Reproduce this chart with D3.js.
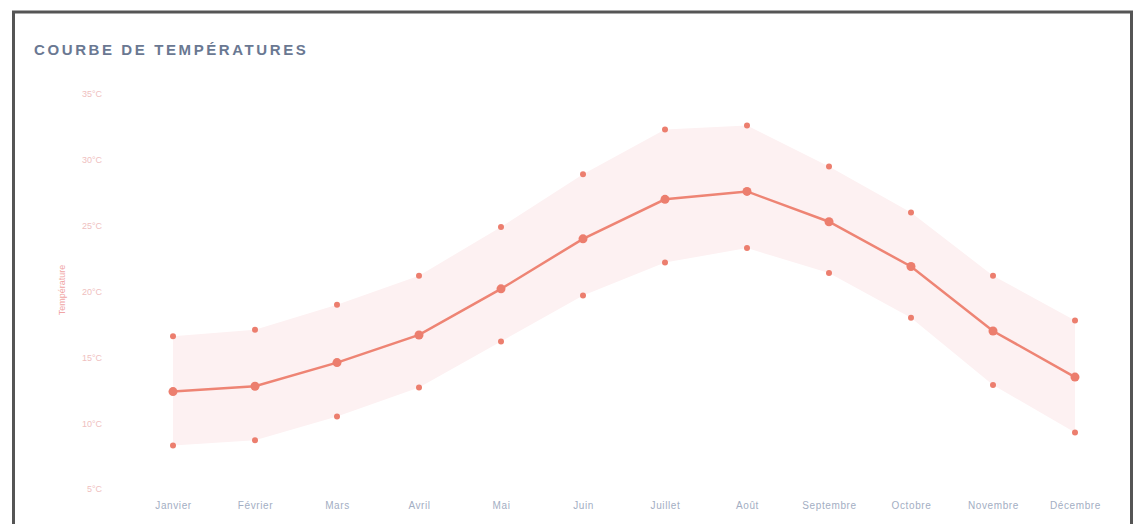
<!DOCTYPE html>
<html>
<head>
<meta charset="utf-8">
<script src="https://cdn.jsdelivr.net/npm/d3@7"></script>
<style>
  body { margin: 0; background: #fff; }
  svg { display: block; font-family: "Liberation Sans", Arial, sans-serif; }
</style>
</head>
<body>
<div id="chart"></div>
<script>
const months = ["Janvier", "Février", "Mars", "Avril", "Mai", "Juin", "Juillet", "Août", "Septembre", "Octobre", "Novembre", "Décembre"];
const tempMoy = [12.4, 12.8, 14.6, 16.7, 20.2, 24.0, 27.0, 27.6, 25.3, 21.9, 17.0, 13.5];
const tempMax = [16.6, 17.1, 19.0, 21.2, 24.9, 28.9, 32.3, 32.6, 29.5, 26.0, 21.2, 17.8];
const tempMin = [8.3, 8.7, 10.5, 12.7, 16.2, 19.7, 22.2, 23.3, 21.4, 18.0, 12.9, 9.3];
const yTicks = [5, 10, 15, 20, 25, 30, 35];

const width = 1133;
const height = 524;

const svg = d3.select("#chart").append("svg")
    .attr("width", width)
    .attr("height", height);

// cadre
svg.append("rect")
    .attr("x", 13.5)
    .attr("y", 12)
    .attr("width", 1118)
    .attr("height", 530)
    .attr("fill", "none")
    .attr("stroke", "#555")
    .attr("stroke-width", 3);

svg.append("text")
    .attr("x", 34)
    .attr("y", 55)
    .attr("fill", "#6a7892")
    .attr("font-size", 15)
    .attr("font-weight", "bold")
    .attr("letter-spacing", 2.6)
    .text("COURBE DE TEMPÉRATURES");

const x = d3.scalePoint()
    .domain(months)
    .range([173, 1075]);

const y = d3.scaleLinear()
    .domain([5, 35])
    .range([489, 94]);

const data = months.map((m, i) => ({ m: m, moy: tempMoy[i], max: tempMax[i], min: tempMin[i] }));

// bande min / max
const area = d3.area()
    .x(d => x(d.m))
    .y0(d => y(d.min))
    .y1(d => y(d.max));

svg.append("path")
    .datum(data)
    .attr("d", area)
    .attr("fill", "#fdf1f2");

// axe y
const yAxis = svg.append("g")
    .attr("transform", "translate(102,0)")
    .call(d3.axisLeft(y).tickValues(yTicks).tickSize(0).tickPadding(0).tickFormat(d => d + "°C"));
yAxis.select(".domain").remove();
yAxis.selectAll("text")
    .attr("fill", "#efc0c0")
    .attr("font-size", 9)
    .attr("font-family", "\"Liberation Sans\", Arial, sans-serif");

svg.append("text")
    .attr("transform", "translate(65,290) rotate(-90)")
    .attr("text-anchor", "middle")
    .attr("fill", "#f0a5a5")
    .attr("font-size", 9)
    .text("Température");

// axe x
const xAxis = svg.append("g")
    .attr("transform", "translate(0,502)")
    .call(d3.axisBottom(x).tickSize(0).tickPadding(0));
xAxis.select(".domain").remove();
xAxis.selectAll("text")
    .attr("fill", "#a3aec3")
    .attr("font-size", 10)
    .attr("letter-spacing", 0.6)
    .attr("font-family", "\"Liberation Sans\", Arial, sans-serif");

// courbe moyenne
const line = d3.line()
    .x(d => x(d.m))
    .y(d => y(d.moy));

svg.append("path")
    .datum(data)
    .attr("d", line)
    .attr("fill", "none")
    .attr("stroke", "#ee8474")
    .attr("stroke-width", 2.5);

svg.selectAll(".pt-moy")
    .data(data)
    .join("circle")
    .attr("class", "pt-moy")
    .attr("cx", d => x(d.m))
    .attr("cy", d => y(d.moy))
    .attr("r", 4.5)
    .attr("fill", "#ec7e6e");

svg.selectAll(".pt-max")
    .data(data)
    .join("circle")
    .attr("class", "pt-max")
    .attr("cx", d => x(d.m))
    .attr("cy", d => y(d.max))
    .attr("r", 3)
    .attr("fill", "#ec7e6e");

svg.selectAll(".pt-min")
    .data(data)
    .join("circle")
    .attr("class", "pt-min")
    .attr("cx", d => x(d.m))
    .attr("cy", d => y(d.min))
    .attr("r", 3)
    .attr("fill", "#ec7e6e");
</script>
</body>
</html>
